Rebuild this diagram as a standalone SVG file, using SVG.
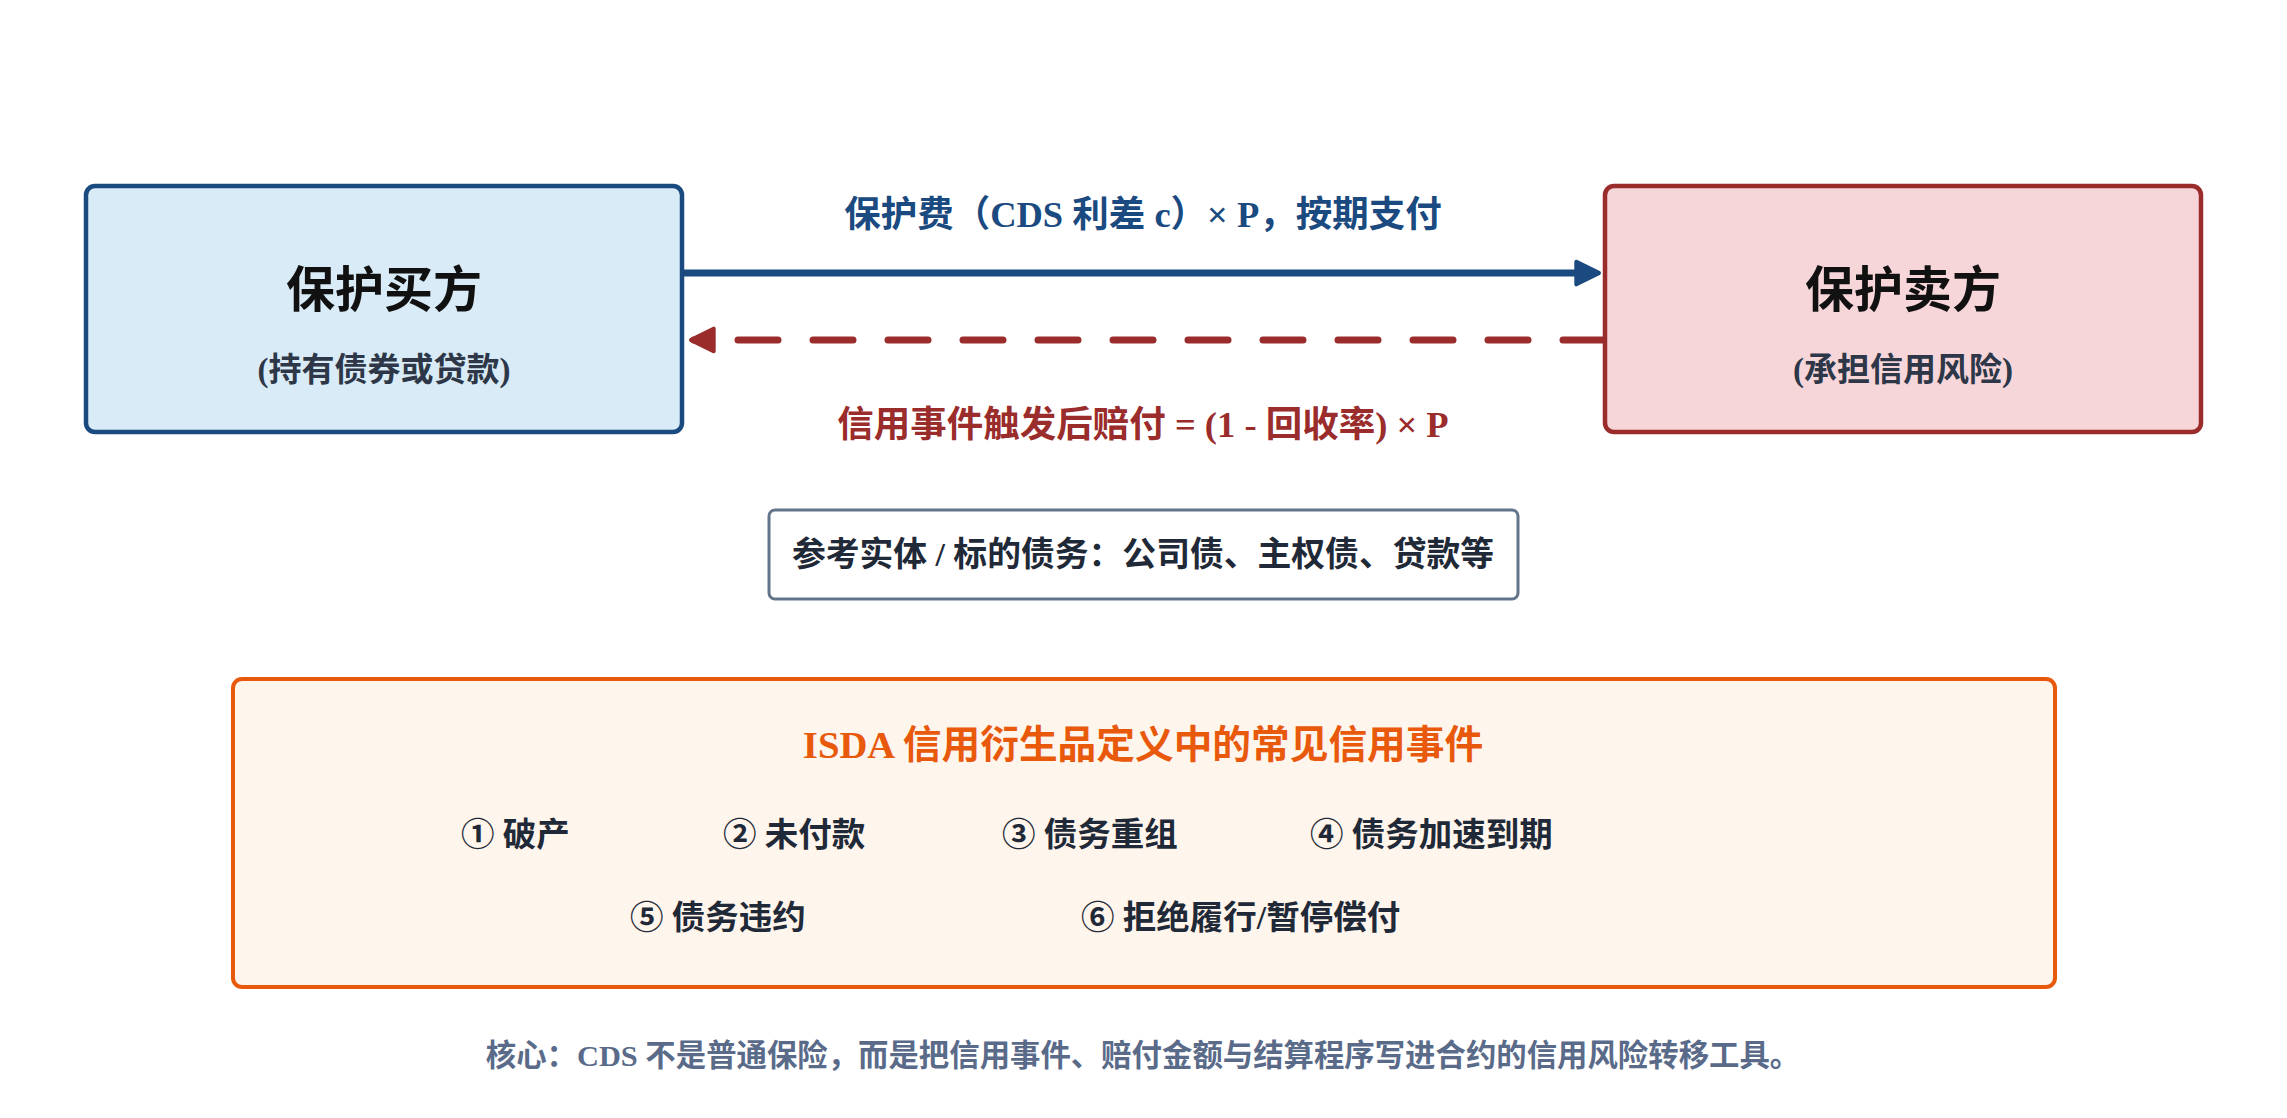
<svg xmlns="http://www.w3.org/2000/svg" width="2287" height="1118" viewBox="0 0 2287 1118">
<style>
text{font-family:"Liberation Serif","Noto Sans CJK SC",serif;font-weight:700;}
.title{font-size:49px;fill:#111111;text-anchor:middle;}
.sub{font-size:33px;fill:#2d3748;text-anchor:middle;}
.lbl{font-size:36.5px;text-anchor:middle;}
.item{font-size:33.5px;fill:#1f2937;}
</style>
<defs>
<marker id="ahBlue" viewBox="0 0 10 10" refX="8" refY="5" markerWidth="4" markerHeight="4" orient="auto" markerUnits="strokeWidth">
<path d="M1,1 L9,5 L1,9 Z" fill="#1a4a80" stroke="#1a4a80" stroke-width="1.5" stroke-linejoin="round"/>
</marker>
<marker id="ahRed" viewBox="0 0 10 10" refX="8" refY="5" markerWidth="4" markerHeight="4" orient="auto" markerUnits="strokeWidth">
<path d="M1,1 L9,5 L1,9 Z" fill="#9b2c2c" stroke="#9b2c2c" stroke-width="1.5" stroke-linejoin="round"/>
</marker>
</defs>
<rect width="2287" height="1118" fill="#ffffff"/>
<g id="buyer">
<rect x="86" y="186" width="596" height="246" rx="9" fill="#d9ebf6" stroke="#1a4a80" stroke-width="4.5"/>
<text class="title" x="384" y="307">保护买方</text>
<text class="sub" x="384" y="381">(持有债券或贷款)</text>
</g>
<g id="seller">
<rect x="1605" y="186" width="596" height="246" rx="9" fill="#f7d6da" stroke="#9b2c2c" stroke-width="4.5"/>
<text class="title" x="1903" y="307">保护卖方</text>
<text class="sub" x="1903" y="381">(承担信用风险)</text>
</g>
<g id="connectors">
<line x1="684" y1="273" x2="1596" y2="273" stroke="#1a4a80" stroke-width="7" marker-end="url(#ahBlue)"/>
<line x1="1603" y1="340" x2="694" y2="340" stroke="#9b2c2c" stroke-width="7" stroke-dasharray="40 35" stroke-linecap="round" marker-end="url(#ahRed)"/>
<text class="lbl" x="1143" y="227" fill="#1a4a80">保护费（CDS 利差 c）× P，按期支付</text>
<text class="lbl" x="1143" y="437" fill="#9b2c2c">信用事件触发后赔付 = (1 - 回收率) × P</text>
</g>
<g id="reference">
<rect x="769" y="510" width="749" height="89" rx="6" fill="#ffffff" stroke="#64748b" stroke-width="3"/>
<text x="1143" y="566" font-size="33.8" fill="#1f2937" text-anchor="middle">参考实体 / 标的债务：公司债、主权债、贷款等</text>
</g>
<g id="events">
<rect x="233" y="679" width="1822" height="308" rx="9" fill="#fef5ec" stroke="#e8590c" stroke-width="4"/>
<text x="1143" y="758" font-size="38.7" fill="#e8590c" text-anchor="middle">ISDA 信用衍生品定义中的常见信用事件</text>
<text class="item" x="461" y="846">① 破产</text>
<text class="item" x="723" y="846">② 未付款</text>
<text class="item" x="1002" y="846">③ 债务重组</text>
<text class="item" x="1310" y="846">④ 债务加速到期</text>
<text class="item" x="630" y="929">⑤ 债务违约</text>
<text class="item" x="1081" y="929">⑥ 拒绝履行/暂停偿付</text>
</g>
<g id="note">
<text x="1143" y="1066" font-size="30.4" fill="#5a6b8a" text-anchor="middle">核心：CDS 不是普通保险，而是把信用事件、赔付金额与结算程序写进合约的信用风险转移工具。</text>
</g>
</svg>
